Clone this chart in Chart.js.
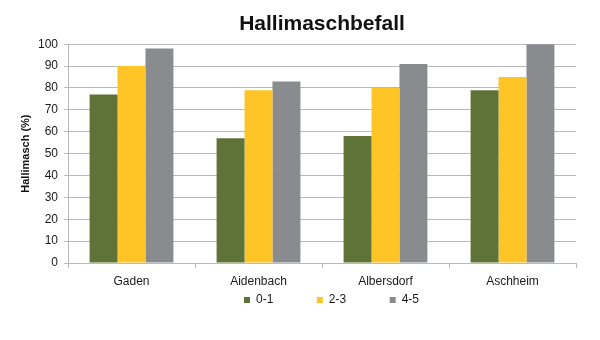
<!DOCTYPE html>
<html>
<head>
<meta charset="utf-8">
<script src="https://cdn.jsdelivr.net/npm/chart.js@4.4.1/dist/chart.umd.min.js"></script>
<style>
  html, body { margin: 0; padding: 0; background: #ffffff; }
  #wrap { width: 600px; height: 340px; }
</style>
</head>
<body>
<div id="wrap"><canvas id="c" width="600" height="340"></canvas></div>
<script>
// ---- data ----
const chartTitle = 'Hallimaschbefall';
const yAxisTitle = 'Hallimasch (%)';
const categories = ['Gaden', 'Aidenbach', 'Albersdorf', 'Aschheim'];
const seriesNames = ['0-1', '2-3', '4-5'];
const values01 = [77, 57, 58, 79];
const values23 = [90, 79, 80, 85];
const values45 = [98, 83, 91, 100];
const yMin = 0;
const yMax = 100;
const yStep = 10;

// ---- styles ----
const FONT = "'Liberation Sans', Arial, Helvetica, sans-serif";
const colors = ['#5f7339', '#ffc426', '#8a8b8f'];
const gridColor = '#b9b9b9';
const textColor = '#1a1a1a';

const LEGEND_X = 244;   // left of first legend box
const LEGEND_Y = 300;   // vertical centre of legend row

const legendPlace = {
  id: 'legendPlace',
  afterLayout(chart) {
    const lg = chart.legend;
    if (!lg || !lg.lineWidths) return;
    const pad = lg.options.labels.padding;
    const fs = lg.options.labels.font.size || 12;
    const curX = (lg.left + pad + lg.right - lg.lineWidths[0]) / 2;
    const dx = LEGEND_X - curX;
    lg.left += dx; lg.right += dx;
    const newTop = LEGEND_Y - pad - fs / 2;
    lg.top = newTop;
    lg.bottom = newTop + pad + fs + 10;
    lg.height = lg.bottom - lg.top;
  }
};

const seriesValues = [values01, values23, values45];

new Chart(document.getElementById('c'), {
  type: 'bar',
  data: {
    labels: categories,
    datasets: seriesNames.map((name, i) => ({
      label: name,
      data: seriesValues[i],
      backgroundColor: colors[i],
      borderWidth: 0,
      categoryPercentage: 0.66,
      barPercentage: 1.0
    }))
  },
  options: {
    responsive: false,
    animation: false,
    layout: { padding: { left: 0, right: 24, top: 0, bottom: 27 } },
    plugins: {
      title: {
        display: true,
        text: chartTitle,
        color: '#111111',
        fullSize: false,
        font: { family: FONT, size: 21, weight: 'bold' },
        padding: { top: 12, bottom: 7 }
      },
      legend: {
        position: 'bottom',
        maxHeight: 20,
        labels: {
          color: textColor,
          font: { family: FONT, size: 12 },
          boxWidth: 6,
          boxHeight: 6,
          padding: 43.5
        }
      },
      tooltip: { enabled: false }
    },
    scales: {
      x: {
        grid: {
          display: true,
          drawOnChartArea: false,
          drawTicks: true,
          tickLength: 5,
          color: gridColor,
          offset: true
        },
        border: { display: true, color: gridColor },
        ticks: {
          color: textColor,
          font: { family: FONT, size: 12 },
          padding: 6,
          maxRotation: 0
        },
        afterFit(scale) { scale.height = 30; }
      },
      y: {
        min: yMin,
        max: yMax,
        grid: {
          color: gridColor,
          tickLength: 4,
          drawTicks: true
        },
        border: { display: true, color: gridColor },
        ticks: {
          stepSize: yStep,
          color: textColor,
          font: { family: FONT, size: 12 },
          padding: 6
        },
        title: {
          display: true,
          text: yAxisTitle,
          color: '#111111',
          font: { family: FONT, size: 11, weight: 'bold' },
          padding: { top: 19, bottom: 0 }
        },
        afterFit(scale) { scale.width = 68; }
      }
    }
  },
  plugins: [legendPlace]
});
</script>
</body>
</html>
